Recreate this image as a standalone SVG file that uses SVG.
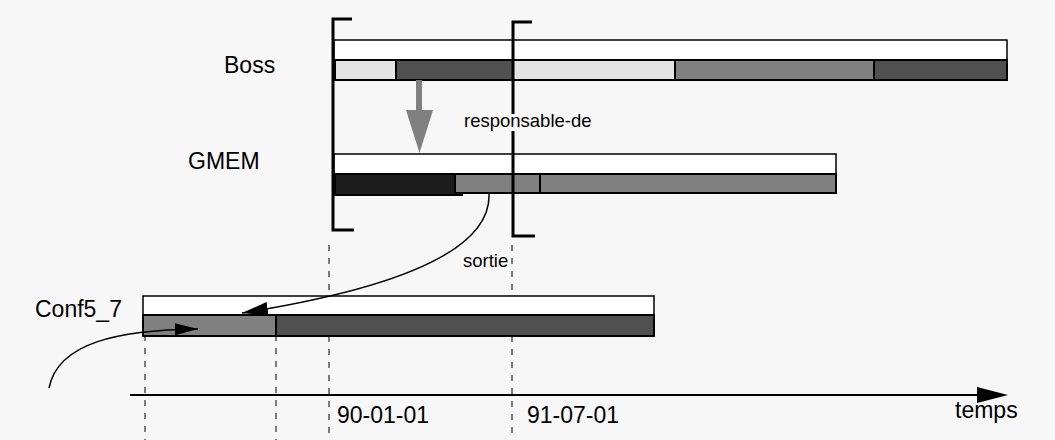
<svg xmlns="http://www.w3.org/2000/svg" width="1055" height="440" viewBox="0 0 1055 440">
  <style>
    .lbl { font-family: "Liberation Sans", Arial, sans-serif; font-size: 23px; fill: #000; }
    .sm { font-family: "Liberation Sans", Arial, sans-serif; font-size: 18.5px; fill: #000; }
    .bar { fill: #ffffff; stroke: #000; stroke-width: 1.5; }
    .seg { stroke: #000; stroke-width: 2; }
    .light { fill: #e4e4e4; }
    .mid { fill: #808080; }
    .dark { fill: #505050; }
    .black { fill: #1c1c1c; }
    .dash { stroke: #000; stroke-width: 1; stroke-dasharray: 6 7; fill: none; }
    .bracket { stroke: #000; stroke-width: 3; fill: none; }
    .conn { stroke: #000; stroke-width: 1.5; fill: none; }
  </style>
  <defs>
    <marker id="ah" viewBox="0 0 10 10" refX="10" refY="5" markerWidth="26" markerHeight="14" markerUnits="userSpaceOnUse" orient="auto" preserveAspectRatio="none">
      <path d="M0,0 L10,5 L0,10 z" fill="#000"/>
    </marker>
    <marker id="ah2" viewBox="0 0 10 10" refX="10" refY="5" markerWidth="23" markerHeight="12" markerUnits="userSpaceOnUse" orient="auto" preserveAspectRatio="none">
      <path d="M0,0 L10,5 L0,10 z" fill="#000"/>
    </marker>
  </defs>
  <rect x="0" y="0" width="1055" height="440" fill="#f7f7f7"/>

  <g id="guides">
    <line class="dash" x1="145" y1="296" x2="145" y2="440"/>
    <line class="dash" x1="276" y1="296" x2="276" y2="440"/>
    <line class="dash" x1="329" y1="245" x2="329" y2="440"/>
    <line class="dash" x1="512" y1="245" x2="512" y2="440"/>
  </g>

  <g id="boss">
    <text class="lbl" x="224" y="73">Boss</text>
    <rect class="bar" x="334" y="40" width="673" height="20"/>
    <rect class="seg light" x="335" y="60" width="61" height="20"/>
    <rect class="seg dark" x="396" y="60" width="117" height="20"/>
    <rect class="seg light" x="513" y="60" width="162" height="20"/>
    <rect class="seg mid" x="675" y="60" width="199" height="20"/>
    <rect class="seg dark" x="874" y="60" width="133" height="20"/>
  </g>

  <g id="gmem">
    <text class="lbl" x="188" y="169">GMEM</text>
    <rect class="bar" x="334" y="154" width="502" height="20"/>
    <rect class="seg black" x="335" y="174" width="127" height="21"/>
    <rect class="seg mid" x="455" y="174" width="85" height="19"/>
    <rect class="seg mid" x="540" y="174" width="296" height="19"/>
  </g>

  <g id="conf5_7">
    <text class="lbl" x="35" y="317">Conf5_7</text>
    <rect class="bar" x="143" y="296" width="511" height="19"/>
    <rect class="seg mid" x="143" y="315" width="133" height="21"/>
    <rect class="seg dark" x="276" y="315" width="378" height="21"/>
  </g>

  <g id="brackets">
    <path class="bracket" d="M352,19 H333 V230 H354"/>
    <path class="bracket" d="M532,22 H513 V236 H535"/>
  </g>

  <g id="axis">
    <line x1="130" y1="395" x2="980" y2="395" stroke="#000" stroke-width="2"/>
    <polygon points="977,387 1008,395 977,403" fill="#000"/>
    <text class="lbl" x="337" y="423">90-01-01</text>
    <text class="lbl" x="527" y="423">91-07-01</text>
    <text class="lbl" x="955" y="418">temps</text>
  </g>

  <g id="connectors">
    <g id="responsable-de">
      <line x1="419" y1="80" x2="419" y2="112" stroke="#808080" stroke-width="6"/>
      <polygon points="406,110 433,110 419.5,153" fill="#808080"/>
      <rect x="461" y="114" width="136" height="17" fill="#f7f7f7"/>
      <text class="sm" x="464" y="127">responsable-de</text>
    </g>
    <g id="sortie">
      <path class="conn" d="M489,193 C492,250 400,288 242,313" marker-end="url(#ah)"/>
      <text class="sm" x="463" y="267">sortie</text>
    </g>
    <g id="entree">
      <path class="conn" d="M49,388 C58,342 120,330 198,329" marker-end="url(#ah2)"/>
    </g>
  </g>
</svg>
